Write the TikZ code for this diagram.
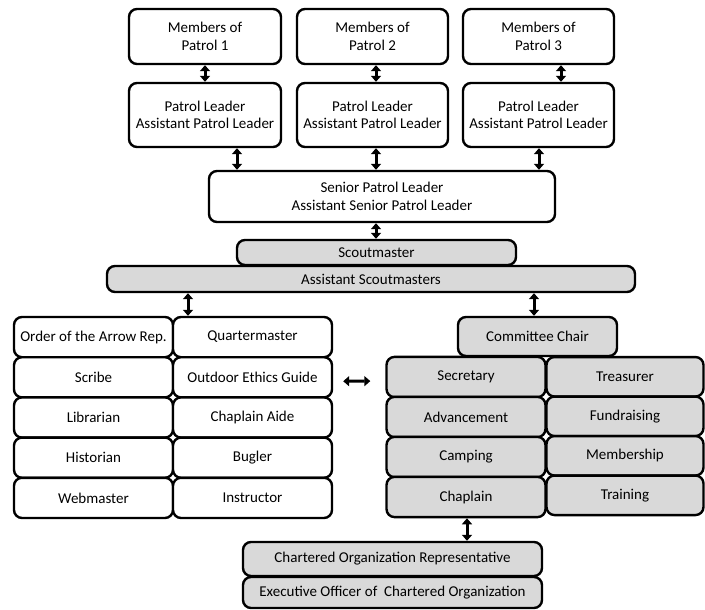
\documentclass[tikz,border=0pt]{standalone}
\usepackage{fontspec}
\setmainfont{Carlito}
\usetikzlibrary{calc,arrows.meta}

\tikzset{
	box/.style={draw, line width=2.4pt, rounded corners=8pt, fill=white, align=center, inner sep=0pt, font=\fontsize{15}{17.5}\selectfont},
	greybox/.style={box, fill=gray!30},
	cell/.style={box, minimum width=159pt, minimum height=40.2pt},
	link/.style={{Triangle[length=6pt,width=10pt]}-{Triangle[length=6pt,width=10pt]}, line width=3pt},
}

\begin{document}
\begin{tikzpicture}[x=1pt, y=-1pt]
	\useasboundingbox (0,0) rectangle (705,610);
	
	%PATROLS
	\node[box, minimum width=152pt, minimum height=55pt] (m1) at (205,36.5) {Members of\\Patrol 1};
	\node[box, minimum width=151pt, minimum height=55pt] (m2) at (372.5,36.5) {Members of\\Patrol 2};
	\node[box, minimum width=151pt, minimum height=55pt] (m3) at (538.5,36.5) {Members of\\Patrol 3};
	%
	\node[box, minimum width=152pt, minimum height=64pt] (pl1) at (205,115) {Patrol Leader\\Assistant Patrol Leader};
	\node[box, minimum width=151pt, minimum height=64pt] (pl2) at (372.5,115) {Patrol Leader\\Assistant Patrol Leader};
	\node[box, minimum width=151pt, minimum height=64pt] (pl3) at (538.5,115) {Patrol Leader\\Assistant Patrol Leader};
	%
	\node[box, minimum width=346pt, minimum height=51pt] (spl) at (382,196.5) {Senior Patrol Leader\\Assistant Senior Patrol Leader};
	
	%SCOUTMASTERS
	\node[greybox, minimum width=279pt, minimum height=25pt] (sm) at (376.5,252.5) {Scoutmaster};
	\node[greybox, minimum width=528pt, minimum height=26pt] (asm) at (371,279) {Assistant Scoutmasters};
	
	%YOUTH POSITIONS
	\node[cell] (oa) at (93.5,337.1) {Order of the Arrow Rep.};
	\node[cell] (scribe) at (93.5,377.3) {Scribe};
	\node[cell] (lib) at (93.5,417.5) {Librarian};
	\node[cell] (hist) at (93.5,457.7) {Historian};
	\node[cell] (web) at (93.5,497.9) {Webmaster};
	%
	\node[cell] (qm) at (252.5,337.1) {Quartermaster};
	\node[cell] (oeg) at (252.5,377.3) {Outdoor Ethics Guide};
	\node[cell] (aide) at (252.5,417.5) {Chaplain Aide};
	\node[cell] (bug) at (252.5,457.7) {Bugler};
	\node[cell] (inst) at (252.5,497.9) {Instructor};
	
	%COMMITTEE
	\node[greybox, minimum width=159pt, minimum height=39pt] (cc) at (537.5,336.5) {Committee Chair};
	%
	\node[cell, greybox] (sec) at (466,377) {Secretary};
	\node[cell, greybox] (adv) at (466,417) {Advancement};
	\node[cell, greybox] (camp) at (466,457) {Camping};
	\node[cell, greybox] (chap) at (466,497) {Chaplain};
	%
	\node[cell, greybox, minimum width=157pt, minimum height=39.5pt] (treas) at (625,376.8) {Treasurer};
	\node[cell, greybox, minimum width=157pt, minimum height=39.5pt] (fund) at (625,416.3) {Fundraising};
	\node[cell, greybox, minimum width=157pt, minimum height=39.5pt] (memb) at (625,455.8) {Membership};
	\node[cell, greybox, minimum width=157pt, minimum height=39.5pt] (train) at (625,495.3) {Training};
	
	%CHARTERED ORGANIZATION
	\node[greybox, minimum width=299pt, minimum height=34pt] (cor) at (392.5,559) {Chartered Organization Representative};
	\node[greybox, minimum width=299pt, minimum height=31pt] (exec) at (392.5,592.5) {Executive Officer of~ Chartered Organization};
	
	%ARROWS
	\draw[link] (m1) -- (pl1);
	\draw[link] (m2.south -| 376,0) -- (pl2.north -| 376,0);
	\draw[link] (m3.south -| 561,0) -- (pl3.north -| 561,0);
	%
	\draw[link] (pl1.south -| 237,0) -- (spl.north -| 237,0);
	\draw[link] (pl2.south -| 376,0) -- (spl.north -| 376,0);
	\draw[link] (pl3.south -| 539,0) -- (spl.north -| 539,0);
	\draw[link] (spl.south -| 376,0) -- (sm.north -| 376,0);
	%
	\draw[link] (asm.south -| 188,0) -- (qm.north -| 188,0);
	\draw[link] (asm.south -| 534,0) -- (cc.north -| 534,0);
	\draw[link, shorten <=10pt, shorten >=15pt] ($(oeg.east)+(0,4)$) -- ($(sec.west)+(0,4)$);
	\draw[link] (chap.south -| 467,0) -- (cor.north -| 467,0);
\end{tikzpicture}
\end{document}
